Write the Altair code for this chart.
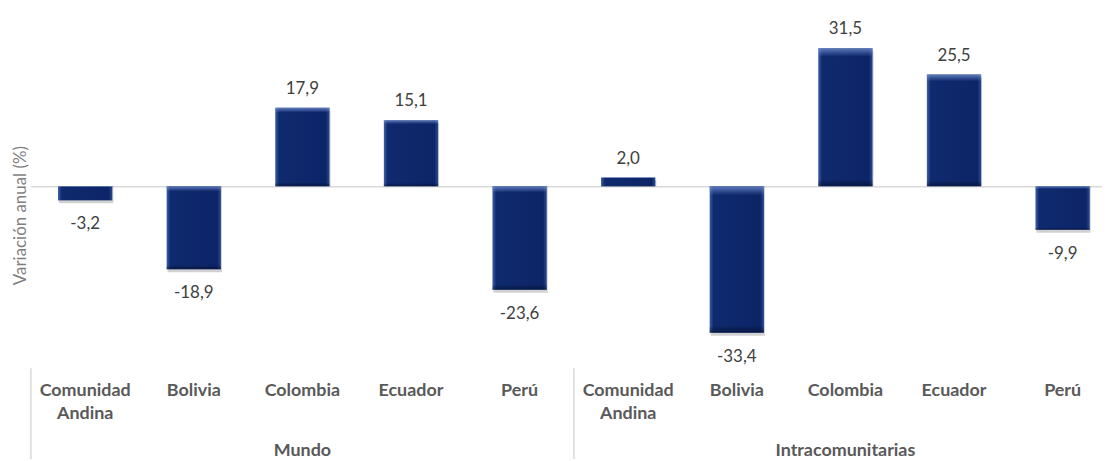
import altair as alt
import pandas as pd

groups = ["Mundo"] * 5 + ["Intracomunitarias"] * 5
names = ["Comunidad\nAndina", "Bolivia", "Colombia", "Ecuador", "Perú"] * 2
values = [-3.2, -18.9, 17.9, 15.1, -23.6, 2.0, -33.4, 31.5, 25.5, -9.9]

df = pd.DataFrame({"grupo": groups, "pais": names, "valor": values})
df["key"] = [f"{i:02d}" for i in range(len(df))]
df["inicio"] = [i % 5 == 0 for i in range(len(df))]
df["medio"] = [i % 5 == 2 for i in range(len(df))]
order = list(df["key"])

FONT = "Lato"
W, H = 1077, 361

xs = alt.Scale(domain=order, range=[0, 1092], paddingInner=0, paddingOuter=0)
x = alt.X("key:N", scale=xs, axis=None)
ys = alt.Scale(domain=[-41.5, 40.4], nice=False, zero=False)
y = alt.Y("valor:Q", scale=ys,
          axis=alt.Axis(values=[0], grid=True, gridColor="#d9d9d9", gridWidth=1.5,
                        labels=False, ticks=False, domain=False,
                        title="Variación anual (%)", titleFont=FONT, titleFontSize=17,
                        titleFontWeight="normal", titleColor="#7f7f7f",
                        titleBaseline="middle", titleX=-10, titleY=207))

base = alt.Chart(df)

shadow = base.mark_bar(width={"band": 0.5}, color="#000000", opacity=0.18,
                       yOffset=3, xOffset=1).encode(x=x, y=y, y2=alt.datum(0))

hgrad = alt.Gradient(gradient="linear", x1=0, x2=1, y1=0, y2=0, stops=[
    alt.GradientStop(color="#3d5ea8", offset=0),
    alt.GradientStop(color="#0f2a6e", offset=0.07),
    alt.GradientStop(color="#0c2567", offset=0.93),
    alt.GradientStop(color="#2b4a92", offset=1)])
bars = base.mark_bar(width={"band": 0.5}, color=hgrad).encode(x=x, y=y, y2=alt.datum(0))

vgrad = alt.Gradient(gradient="linear", x1=0, x2=0, y1=0, y2=1, stops=[
    alt.GradientStop(color="rgba(120,150,215,0.75)", offset=0),
    alt.GradientStop(color="rgba(120,150,215,0.0)", offset=0.06),
    alt.GradientStop(color="rgba(0,0,0,0.0)", offset=0.95),
    alt.GradientStop(color="rgba(0,10,40,0.5)", offset=1)])
bevel = base.mark_bar(width={"band": 0.5}, color=vgrad).encode(x=x, y=y, y2=alt.datum(0))

lab = base.transform_calculate(
    txt="(datum.valor < 0 ? '-' : '') + replace(format(abs(datum.valor), '.1f'), '.', ',')")
pos_lab = lab.transform_filter("datum.valor >= 0").mark_text(
    font=FONT, fontSize=17, color="#404040", baseline="alphabetic", dy=-14
).encode(x=x, y=y, text="txt:N")
neg_lab = lab.transform_filter("datum.valor < 0").mark_text(
    font=FONT, fontSize=17, color="#404040", baseline="top", dy=16
).encode(x=x, y=y, text="txt:N")

cat_lab = base.mark_text(font=FONT, fontSize=18, fontWeight="bold", color="#595959",
                         baseline="top", lineBreak="\n", lineHeight=23).encode(
    x=x, y=alt.value(375), text="pais:N")

grp_lab = base.transform_filter("datum.medio").mark_text(
    font=FONT, fontSize=18, fontWeight="bold", color="#595959", baseline="alphabetic"
).encode(x=x, y=alt.value(449), text="grupo:N")

sep = base.transform_filter("datum.inicio").mark_rule(color="#d9d9d9", strokeWidth=1.5).encode(
    x=alt.X("key:N", scale=xs, axis=None, bandPosition=0),
    y=alt.value(361), y2=alt.value(470))

chart = alt.layer(shadow, bars, bevel, pos_lab, neg_lab, cat_lab, grp_lab, sep).properties(
    width=W, height=H,
    autosize=alt.AutoSizeParams(type="none"),
    padding={"left": 23, "top": 0, "right": 0, "bottom": 90},
).configure_view(stroke=None)

chart.save("out.html", embed_options={"renderer": "svg", "actions": False})
